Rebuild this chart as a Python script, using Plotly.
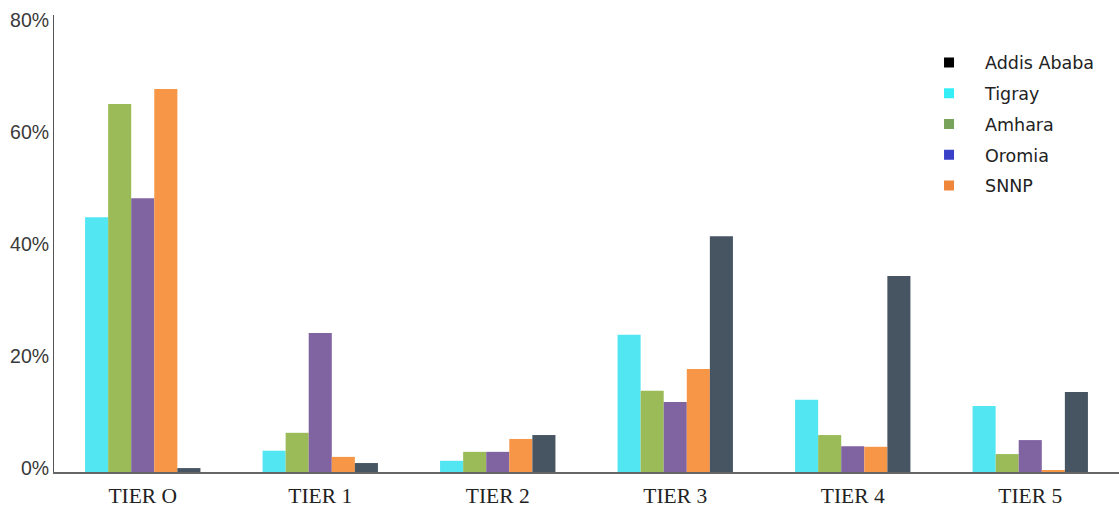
import plotly.graph_objects as go

# Share of households in each electricity access tier, by region (%)
tiers = ["TIER O", "TIER 1", "TIER 2", "TIER 3", "TIER 4", "TIER 5"]
tigray = [45.5, 3.8, 2.0, 24.5, 12.9, 11.8]
amhara = [65.7, 7.0, 3.6, 14.5, 6.6, 3.2]
oromia = [48.9, 24.8, 3.6, 12.5, 4.6, 5.7]
snnp = [68.4, 2.7, 5.9, 18.4, 4.5, 0.2]
addis_ababa = [0.7, 1.6, 6.6, 42.1, 35.0, 14.3]

y_ticks = [0, 20, 40, 60, 80]
y_tick_text = ["0%", "20%", "40%", "60%", "80%"]

# bar fill colours and the (slightly different) legend swatch colours
bar_series = [
    ("Tigray", tigray, "#52E6F3"),
    ("Amhara", amhara, "#9BBB59"),
    ("Oromia", oromia, "#8064A2"),
    ("SNNP", snnp, "#F79646"),
    ("Addis Ababa", addis_ababa, "#475563"),
]
legend_entries = [
    ("Addis Ababa", "#000000"),
    ("Tigray", "#33EEF5"),
    ("Amhara", "#77A35A"),
    ("Oromia", "#3A41C8"),
    ("SNNP", "#F0863A"),
]

fig = go.Figure()
for name, vals, color in bar_series:
    fig.add_trace(go.Bar(
        x=tiers, y=vals, name=name, marker_color=color,
        marker_line_width=0, showlegend=False,
    ))

for i, (name, color) in enumerate(legend_entries):
    fig.add_trace(go.Scatter(
        x=[None], y=[None], mode="markers", name=name,
        legendgroup=f"g{i}",
        marker=dict(symbol="square", size=10, color=color),
    ))

fig.update_layout(
    width=1119, height=508,
    margin=dict(l=54, r=0, t=15, b=36),
    paper_bgcolor="white", plot_bgcolor="white",
    barmode="group", bargap=0.35, bargroupgap=0,
    legend=dict(
        x=0.8066, y=0.935, xanchor="left", yanchor="top",
        traceorder="grouped", tracegroupgap=5, itemwidth=62,
        font=dict(family="DejaVu Sans", size=17.5, color="#222"),
        bgcolor="rgba(0,0,0,0)",
    ),
    xaxis=dict(
        type="category", showgrid=False, showline=True,
        linecolor="#666", linewidth=1.5, ticks="",
        ticklabelstandoff=3,
        tickfont=dict(family="Liberation Serif", size=21.5, color="#222"),
    ),
    yaxis=dict(
        range=[0, 81.6], tickvals=y_ticks, ticktext=y_tick_text,
        showgrid=False, zeroline=False, showline=True,
        linecolor="#555", linewidth=1, ticks="", ticklabelshift=-4,
        tickfont=dict(family="Liberation Sans", size=19.5, color="#3a3a3a"),
    ),
)

fig.write_html("out.html")
